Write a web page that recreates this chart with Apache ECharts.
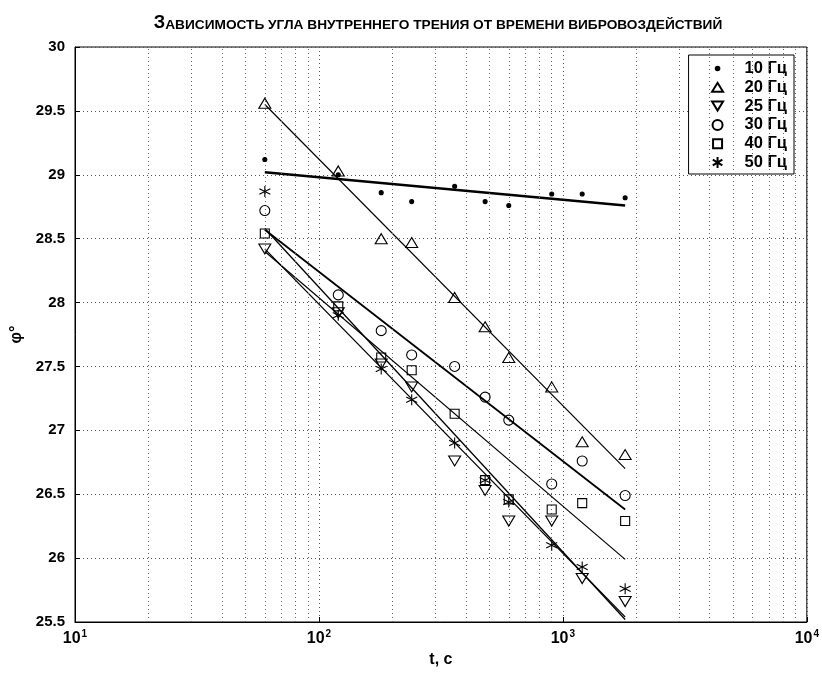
<!DOCTYPE html>
<html><head><meta charset="utf-8">
<script src="https://cdn.jsdelivr.net/npm/echarts@6/dist/echarts.min.js"></script>
<style>html,body{margin:0;padding:0;background:#fff}#c{width:822px;height:673px}</style>
</head><body><div id="c"></div>
<script>
const times = [60, 120, 180, 240, 360, 480, 600, 900, 1200, 1800];
const hz10 = [29.12, 29.00, 28.86, 28.79, 28.91, 28.79, 28.76, 28.85, 28.85, 28.82];
const hz20 = [29.56, 29.03, 28.50, 28.47, 28.04, 27.81, 27.57, 27.34, 26.91, 26.81];
const hz25 = [28.42, 27.92, 27.52, 27.34, 26.76, 26.53, 26.29, 26.29, 25.84, 25.66];
const hz30 = [28.72, 28.06, 27.78, 27.59, 27.50, 27.26, 27.08, 26.58, 26.76, 26.49];
const hz40 = [28.54, 27.97, 27.57, 27.47, 27.13, 26.61, 26.46, 26.38, 26.43, 26.29];
const hz50 = [28.87, 27.90, 27.48, 27.24, 26.90, 26.61, 26.44, 26.10, 25.93, 25.76];
const seriesNames = ['10 Гц', '20 Гц', '25 Гц', '30 Гц', '40 Гц', '50 Гц'];
// fitted trend lines (value at t=60 and t=1800)
const fitT = [60, 1800];
const fitStart = [29.02, 29.55, 28.42, 28.57, 28.40, 28.58];
const fitEnd = [28.76, 26.70, 25.54, 26.38, 25.99, 25.52];
const xMinorGrid = [20, 30, 40, 50, 60, 70, 80, 90, 200, 300, 400, 500, 600, 700, 800, 900, 2000, 3000, 4000, 5000, 6000, 7000, 8000, 9000];

const allY = [hz10, hz20, hz25, hz30, hz40, hz50];
const FONT = '"Liberation Sans", Arial, sans-serif';

const BOX = 'M0,0 M30,14 ';
const legendIcons = [
  'path://' + BOX + 'M6.2,7 A1.8,1.8 0 1,0 9.8,7 A1.8,1.8 0 1,0 6.2,7 Z',
  'path://' + BOX + 'M2.5,11.5 L13.5,11.5 L8,2.5 Z',
  'path://' + BOX + 'M2.5,2.5 L13.5,2.5 L8,11.5 Z',
  'path://' + BOX + 'M3,7 A5,5 0 1,0 13,7 A5,5 0 1,0 3,7 Z',
  'path://' + BOX + 'M3.5,2.5 L12.5,2.5 L12.5,11.5 L3.5,11.5 Z',
  'path://' + BOX + 'M8,1.5 L8,12.5 M3.2,4.2 L12.8,9.8 M3.2,9.8 L12.8,4.2'
];
const symbols = [
  {symbol: 'circle', size: 4, fill: '#000'},
  {symbol: 'path://M5,0 L10,8.5 L0,8.5 Z', size: [12, 10], fill: 'rgba(0,0,0,0)'},
  {symbol: 'path://M0,0 L10,0 L5,8.5 Z', size: [12, 10], fill: 'rgba(0,0,0,0)'},
  {symbol: 'circle', size: 10, fill: 'rgba(0,0,0,0)'},
  {symbol: 'rect', size: 9, fill: 'rgba(0,0,0,0)'},
  {symbol: 'path://M5,0 L5,10 M0.67,2.5 L9.33,7.5 M0.67,7.5 L9.33,2.5', size: [11, 11], fill: 'rgba(0,0,0,0)'}
];
const fitWidths = [2.6, 1.2, 1.3, 1.8, 1.2, 1.3];

const series = [];
seriesNames.forEach((name, i) => {
  series.push({
    name: name + ' fit',
    type: 'line',
    data: fitT.map((t, k) => [t, k === 0 ? fitStart[i] : fitEnd[i]]),
    symbol: 'none',
    lineStyle: {color: '#000', width: fitWidths[i]},
    z: 3,
    silent: true
  });
});
seriesNames.forEach((name, i) => {
  series.push({
    name: name,
    type: 'scatter',
    data: times.map((t, k) => [t, allY[i][k]]),
    symbol: symbols[i].symbol,
    symbolSize: symbols[i].size,
    itemStyle: {color: symbols[i].fill, borderColor: '#000', borderWidth: 1.1, opacity: 1},
    z: 5
  });
});
series[0].markLine = {
  silent: true,
  symbol: ['none', 'none'],
  label: {show: false},
  lineStyle: {color: '#666', width: 1, type: [1, 3]},
  data: xMinorGrid.map(v => ({xAxis: v}))
};

const chart = echarts.init(document.getElementById('c'), null, {renderer: 'canvas'});
chart.setOption({
  animation: false,
  backgroundColor: '#fff',
  title: {
    text: '{a|З}{b|АВИСИМОСТЬ УГЛА ВНУТРЕННЕГО ТРЕНИЯ ОТ ВРЕМЕНИ ВИБРОВОЗДЕЙСТВИЙ}',
    left: 433,
    textAlign: 'center',
    top: 7,
    textStyle: {
      rich: {
        a: {fontSize: 18.2, fontFamily: FONT, color: '#000', verticalAlign: 'bottom', lineHeight: 20},
        b: {fontSize: 13.7, fontFamily: FONT, color: '#000', verticalAlign: 'bottom', lineHeight: 20}
      }
    }
  },
  legend: {
    data: seriesNames.map((n, i) => ({name: n, icon: legendIcons[i]})),
    orient: 'vertical',
    right: 28,
    top: 55,
    itemWidth: 30,
    itemHeight: 14,
    itemGap: 1.8,
    padding: [5, 7, 3, 20],
    borderColor: '#000',
    borderWidth: 1,
    backgroundColor: '#fff',
    selectedMode: false,
    textStyle: {fontSize: 16.5, fontWeight: 'bold', fontFamily: FONT, color: '#000', lineHeight: 16}
  },
  grid: {left: 75, right: 15, top: 47, bottom: 48, show: true, borderColor: '#000', borderWidth: 1, backgroundColor: 'transparent'},
  xAxis: {
    type: 'log',
    logBase: 10,
    min: 10,
    max: 10000,
    name: 't, c',
    nameLocation: 'middle',
    nameGap: 30,
    nameTextStyle: {fontSize: 16, fontWeight: 'bold', fontFamily: FONT, color: '#000'},
    axisLine: {lineStyle: {color: '#000', width: 1}},
    axisTick: {inside: true, length: 5, lineStyle: {color: '#000'}},
    axisLabel: {
      margin: 7,
      formatter: v => '{a|10}{b|' + Math.round(Math.log10(v)) + '}',
      rich: {
        a: {fontSize: 16, fontWeight: 'bold', fontFamily: FONT, color: '#000', lineHeight: 20},
        b: {fontSize: 10, fontWeight: 'bold', fontFamily: FONT, color: '#000', verticalAlign: 'top', lineHeight: 10, padding: [0, 0, 0, 1]}
      }
    },
    splitLine: {show: true, lineStyle: {color: '#555', width: 1, type: [1, 3]}},
    minorTick: {show: false},
    minorSplitLine: {show: false}
  },
  yAxis: {
    type: 'value',
    min: 25.5,
    max: 30,
    interval: 0.5,
    name: 'φ°',
    nameLocation: 'middle',
    nameGap: 50,
    nameRotate: 90,
    nameTextStyle: {fontSize: 16, fontWeight: 'bold', fontFamily: FONT, color: '#000'},
    axisLine: {show: true, lineStyle: {color: '#000', width: 1}},
    axisTick: {show: true, inside: true, length: 5, lineStyle: {color: '#000'}},
    axisLabel: {margin: 10, fontSize: 15, fontWeight: 'bold', fontFamily: FONT, color: '#000', formatter: v => String(v)},
    splitLine: {show: true, lineStyle: {color: '#555', width: 1, type: [1, 3]}}
  },
  series: series
});
</script></body></html>
